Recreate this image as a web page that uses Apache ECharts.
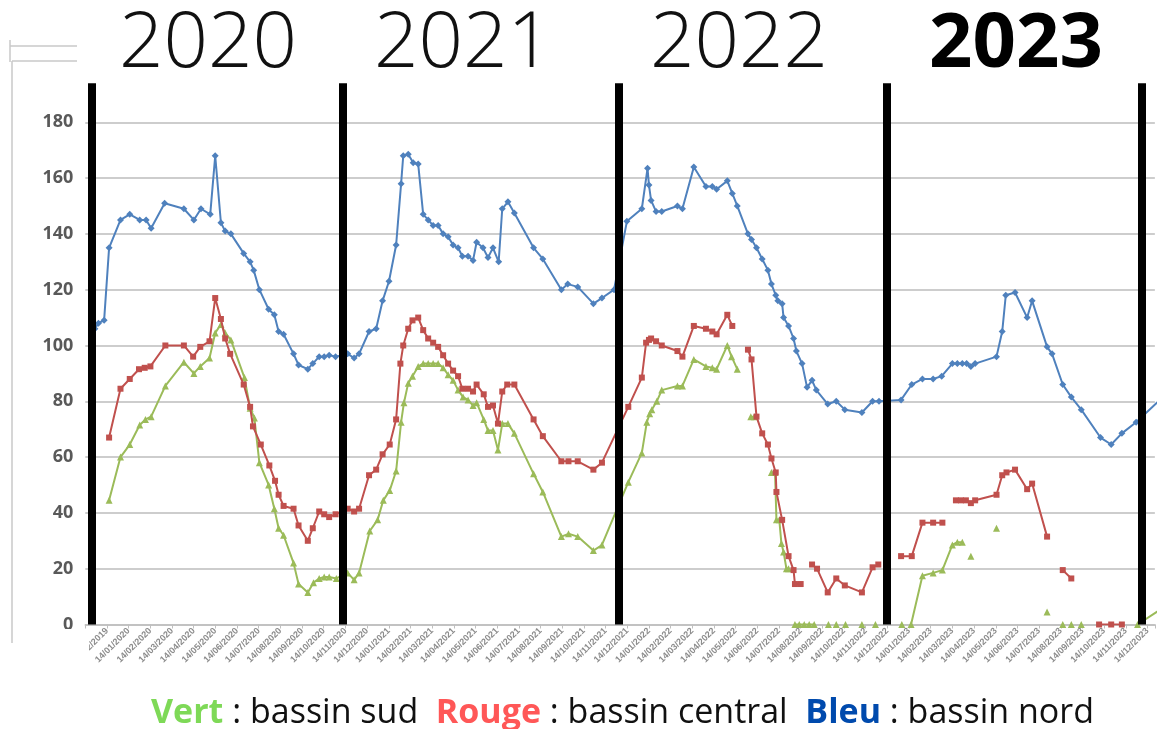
<!DOCTYPE html>
<html><head><meta charset="utf-8">
<script src="https://cdn.jsdelivr.net/npm/echarts@6/dist/echarts.min.js"></script>
<style>html,body{margin:0;padding:0;background:#fff}#c{width:1157px;height:729px}</style>
</head><body><div id="c"></div>
<script>
// ---- data ----
const yearTitles = ['2020', '2021', '2022', '2023'];
const tickLabels = ['14/12/2019','14/01/2020','14/02/2020','14/03/2020','14/04/2020','14/05/2020','14/06/2020','14/07/2020','14/08/2020','14/09/2020','14/10/2020','14/11/2020','14/12/2020','14/01/2021','14/02/2021','14/03/2021','14/04/2021','14/05/2021','14/06/2021','14/07/2021','14/08/2021','14/09/2021','14/10/2021','14/11/2021','14/12/2021','14/01/2022','14/02/2022','14/03/2022','14/04/2022','14/05/2022','14/06/2022','14/07/2022','14/08/2022','14/09/2022','14/10/2022','14/11/2022','14/12/2022','14/01/2023','14/02/2023','14/03/2023','14/04/2023','14/05/2023','14/06/2023','14/07/2023','14/08/2023','14/09/2023','14/10/2023','14/11/2023','14/12/2023'];
const yearSeparators = ['2019-11-23', '2020-11-09', '2021-12-02', '2022-12-13', '2023-12-06'];

// Bleu : bassin nord
const blueNord = [
['2019-11-27',106],['2019-12-02',108],['2019-12-10',109],['2019-12-17',135],['2020-01-02',145],['2020-01-15',147],['2020-01-29',145],['2020-02-07',145],['2020-02-14',142],['2020-03-04',151],['2020-03-31',149],['2020-04-14',145],['2020-04-24',149],['2020-05-07',147],['2020-05-14',168],['2020-05-22',144],['2020-05-28',141],['2020-06-05',140],['2020-06-23',133],['2020-07-02',130],['2020-07-07',127],['2020-07-15',120],['2020-07-28',113],['2020-08-05',111],['2020-08-11',105],['2020-08-18',104],['2020-09-01',97],['2020-09-08',93],['2020-09-21',91.5],['2020-09-28',93.5],['2020-10-07',96],['2020-10-14',96],['2020-10-21',96.5],['2020-10-30',96],['2020-11-16',97],['2020-11-25',95.5],['2020-12-02',97],['2020-12-16',105],['2020-12-26',106],
['2021-01-04',116],['2021-01-13',123],['2021-01-23',136],['2021-01-30',158],['2021-02-02',168],['2021-02-09',168.5],['2021-02-16',165.5],['2021-02-23',165],['2021-03-02',147],['2021-03-09',145],['2021-03-16',143],['2021-03-23',143],['2021-03-30',140],['2021-04-06',139],['2021-04-13',136],['2021-04-20',135],['2021-04-26',132],['2021-05-04',132],['2021-05-11',130.5],['2021-05-16',137],['2021-05-25',135],['2021-06-01',131.5],['2021-06-08',135],['2021-06-16',130],['2021-06-21',149],['2021-06-29',151.5],['2021-07-08',147.5],['2021-08-04',135],['2021-08-17',131],['2021-09-12',120],['2021-09-21',122],['2021-10-05',121],['2021-10-27',115],['2021-11-08',117],['2021-11-25',120],
['2021-12-13',144.5],['2022-01-03',149],['2022-01-11',163.5],['2022-01-13',157.5],['2022-01-16',152],['2022-01-23',148],['2022-01-31',148],['2022-02-22',150],['2022-03-01',149],['2022-03-17',164],['2022-04-03',157],['2022-04-12',157],['2022-04-18',156],['2022-05-03',159],['2022-05-10',154.5],['2022-05-17',150],['2022-06-01',140],['2022-06-06',138],['2022-06-13',135],['2022-06-21',131],['2022-06-29',127],['2022-07-04',122],['2022-07-10',118],['2022-07-13',116],['2022-07-19',115],['2022-07-21',110],['2022-07-28',107],['2022-08-04',102.5],['2022-08-08',98],['2022-08-16',93.5],['2022-08-23',85],['2022-08-30',87.5],['2022-09-05',84],['2022-09-21',79],['2022-10-03',80],['2022-10-15',77],['2022-11-08',76],['2022-11-23',80],['2022-12-02',80],
['2023-01-02',80.5],['2023-01-17',86],['2023-02-01',88],['2023-02-16',88],['2023-02-28',89],['2023-03-15',93.5],['2023-03-22',93.5],['2023-03-29',93.5],['2023-04-04',93.5],['2023-04-10',92.5],['2023-04-16',93.5],['2023-05-16',96],['2023-05-24',105],['2023-05-29',118],['2023-06-11',119],['2023-06-28',110],['2023-07-05',116],['2023-07-26',99.5],['2023-08-02',97],['2023-08-17',86],['2023-08-29',81.5],['2023-09-12',77],['2023-10-09',67],['2023-10-24',64.5],['2023-11-08',68.5],['2023-11-28',72.5],['2024-01-11',83]
];

// Rouge : bassin central
const redCentral = [
['2019-12-17',67],['2020-01-02',84.5],['2020-01-15',88],['2020-01-28',91.5],['2020-02-05',92],['2020-02-13',92.5],['2020-03-05',100],['2020-03-31',100],['2020-04-13',96],['2020-04-23',99.5],['2020-05-06',101.5],['2020-05-14',117],['2020-05-22',109.5],['2020-05-28',102.5],['2020-06-04',97],['2020-06-23',86],['2020-07-02',78],['2020-07-06',71],['2020-07-17',64.5],['2020-07-29',57],['2020-08-06',51.5],['2020-08-11',46.5],['2020-08-18',42.5],['2020-09-01',41.5],['2020-09-08',35.5],['2020-09-21',30],['2020-09-28',34.5],['2020-10-07',40.5],['2020-10-14',39.5],['2020-10-21',38.5],['2020-10-30',39.5],['2020-11-16',41.5],['2020-11-25',40.5],['2020-12-02',41.5],['2020-12-16',53.5],['2020-12-26',55.5],
['2021-01-04',61],['2021-01-14',64.5],['2021-01-23',73.5],['2021-01-29',93.5],['2021-02-02',100],['2021-02-09',106],['2021-02-15',109],['2021-02-23',110],['2021-03-02',105.5],['2021-03-09',102.5],['2021-03-16',101],['2021-03-23',99.5],['2021-03-30',96.5],['2021-04-06',93.5],['2021-04-13',91],['2021-04-20',89],['2021-04-26',84.5],['2021-05-04',84.5],['2021-05-11',83.5],['2021-05-16',86],['2021-05-26',82.5],['2021-06-01',78],['2021-06-08',78.5],['2021-06-15',72],['2021-06-21',83.5],['2021-06-28',86],['2021-07-08',86],['2021-08-04',73.5],['2021-08-17',67.5],['2021-09-12',58.5],['2021-09-22',58.5],['2021-10-05',58.5],['2021-10-27',55.5],['2021-11-08',58],
['2021-12-15',78],['2022-01-03',88.5],['2022-01-09',101],['2022-01-13',102],['2022-01-16',102.5],['2022-01-23',101.5],['2022-01-31',100],['2022-02-22',98],['2022-03-01',96],['2022-03-17',107],['2022-04-03',106],['2022-04-12',105],['2022-04-18',104],['2022-05-03',111],['2022-05-10',107],null,['2022-06-01',98.5],['2022-06-06',95],['2022-06-13',74.5],['2022-06-21',68.5],['2022-06-29',64.5],['2022-07-04',59.5],['2022-07-10',54.5],['2022-07-11',47.5],['2022-07-19',37.5],['2022-07-28',24.5],['2022-08-04',19.5],['2022-08-06',14.5],['2022-08-14',14.5],null,['2022-08-30',21.5],['2022-09-06',20],['2022-09-21',11.5],['2022-10-03',16.5],['2022-10-15',14],['2022-11-08',11.5],['2022-11-23',20.5],['2022-12-01',21.5],null,
['2023-01-02',24.5],['2023-01-17',24.5],['2023-02-01',36.5],['2023-02-16',36.5],['2023-03-01',36.5],null,['2023-03-20',44.5],['2023-03-27',44.5],['2023-04-03',44.5],['2023-04-10',43.5],['2023-04-16',44.5],['2023-05-16',46.5],['2023-05-24',53.5],['2023-05-30',54.5],['2023-06-11',55.5],['2023-06-28',48.5],['2023-07-05',50.5],['2023-07-26',31.5],null,['2023-08-17',19.5],['2023-08-29',16.5],null,['2023-10-07',0],['2023-10-24',0],['2023-11-08',0]
];

// Vert : bassin sud
const greenSud = [
['2019-12-17',44.5],['2020-01-02',60],['2020-01-15',64.5],['2020-01-29',71.5],['2020-02-06',73.5],['2020-02-14',74.5],['2020-03-05',85.5],['2020-03-31',94],['2020-04-14',90],['2020-04-23',92.5],['2020-05-06',95.5],['2020-05-14',104.5],['2020-05-22',107.5],['2020-05-28',104.5],['2020-06-05',102],['2020-06-24',88.5],['2020-07-02',77.5],['2020-07-08',74],['2020-07-15',58],['2020-07-28',50],['2020-08-05',41.5],['2020-08-11',34.5],['2020-08-18',32],['2020-09-01',22],['2020-09-08',14.5],['2020-09-21',11.5],['2020-09-29',15],['2020-10-07',16.5],['2020-10-14',17],['2020-10-21',17],['2020-10-31',16.5],['2020-11-16',18.5],['2020-11-25',16],['2020-12-02',18.5],['2020-12-17',33.5],['2020-12-28',37.5],
['2021-01-05',44.5],['2021-01-14',48],['2021-01-23',55],['2021-01-30',72.5],['2021-02-03',79.5],['2021-02-09',86.5],['2021-02-15',89],['2021-02-23',92.5],['2021-03-02',93.5],['2021-03-09',93.5],['2021-03-16',93.5],['2021-03-23',93.5],['2021-03-30',92],['2021-04-06',89.5],['2021-04-13',87.5],['2021-04-20',84],['2021-04-27',81.5],['2021-05-04',80.5],['2021-05-11',78.5],['2021-05-16',79.5],['2021-05-26',73.5],['2021-06-01',69.5],['2021-06-08',69.5],['2021-06-15',62.5],['2021-06-21',72],['2021-06-29',72],['2021-07-08',68.5],['2021-08-04',54],['2021-08-17',47.5],['2021-09-12',31.5],['2021-09-22',32.5],['2021-10-05',31.5],['2021-10-27',26.5],['2021-11-08',28.5],
['2021-12-15',51],['2022-01-03',61.5],['2022-01-10',72.5],['2022-01-14',75.5],['2022-01-17',77],['2022-01-24',80],['2022-01-31',84],['2022-02-22',85.5],['2022-03-01',85.5],['2022-03-17',95],['2022-04-03',92.5],['2022-04-12',92],['2022-04-18',91.5],['2022-05-03',100],['2022-05-09',96],['2022-05-17',91.5],null,['2022-06-05',74.5],['2022-06-10',74.5],null,['2022-07-04',54.5],['2022-07-09',54.5],['2022-07-11',37.5],['2022-07-15',37.5],['2022-07-18',29],['2022-07-21',26],['2022-07-25',20],['2022-07-28',20],null,['2022-08-06',0],['2022-08-12',0],['2022-08-19',0],['2022-08-26',0],['2022-09-02',0],null,['2022-09-22',0],null,['2022-10-03',0],null,['2022-10-16',0],null,['2022-11-08',0],null,['2022-11-27',0],null,
['2023-01-03',0],null,['2023-01-16',0],['2023-02-01',17.5],['2023-02-16',18.5],['2023-03-01',19.5],['2023-03-15',28.5],['2023-03-22',29.5],['2023-03-29',29.5],null,['2023-04-10',24.5],null,['2023-05-16',34.5],null,['2023-07-26',4.5],null,['2023-08-17',0],null,['2023-08-29',0],null,['2023-09-12',0],null,['2023-11-30',0],['2024-01-11',7]
];

// ---- helpers ----
const ORIGIN = Date.UTC(2019, 11, 14);
function toMonths(s) {
  const p = s.split('-').map(Number);
  return (Date.UTC(p[0], p[1] - 1, p[2]) - ORIGIN) / 86400000 / 30.4375;
}
function build(arr) {
  return arr.map(d => d === null ? ['-', '-'] : [toMonths(d[0]), d[1]]);
}

const chart = echarts.init(document.getElementById('c'), null, {renderer: 'canvas'});
const FONT = '"Open Sans", "DejaVu Sans", sans-serif';

const option = {
  backgroundColor: '#ffffff',
  animation: false,
  grid: {left: 85.28, right: 0, top: 83.2, bottom: 104.5, containLabel: false},
  xAxis: {
    type: 'value', min: -1, max: 48.34, interval: 1,
    axisLine: {show: true, lineStyle: {color: '#bfbfbf', width: 1.5}},
    axisTick: {show: true, length: 4, lineStyle: {color: '#bfbfbf'}},
    splitLine: {show: false},
    axisLabel: {
      rotate: 45, margin: 5, fontSize: 9, fontWeight: 'bold', color: '#8c8c8c', fontFamily: 'Liberation Sans, Arial',
      formatter: v => { const i = Math.round(v); return (Math.abs(v - i) < 1e-6 && i >= 0 && i < tickLabels.length) ? tickLabels[i] : ''; }
    }
  },
  yAxis: {
    type: 'value', min: 0, max: 194, interval: 20,
    axisLine: {show: false}, axisTick: {show: false},
    splitLine: {show: true, showMaxLine: false, lineStyle: {color: '#bdbdbd', width: 1.5}},
    axisLabel: {showMaxLabel: false, margin: 12, fontSize: 18, fontWeight: 'bold', color: '#595959', fontFamily: FONT}
  },
  series: [
    {name: 'Bleu : bassin nord', type: 'line', data: build(blueNord), symbol: 'diamond', symbolSize: 7,
     lineStyle: {color: '#4f81bd', width: 2}, itemStyle: {color: '#4f81bd'}, connectNulls: false, z: 3},
    {name: 'Rouge : bassin central', type: 'line', data: build(redCentral), symbol: 'rect', symbolSize: 6,
     lineStyle: {color: '#c0504d', width: 2}, itemStyle: {color: '#c0504d'}, connectNulls: false, z: 4},
    {name: 'Vert : bassin sud', type: 'line', data: build(greenSud), symbol: 'triangle', symbolSize: 7,
     lineStyle: {color: '#9bbb59', width: 2}, itemStyle: {color: '#9bbb59'}, connectNulls: false, z: 3},
    {name: 'separators', type: 'line', data: [], z: 10, silent: true,
     markLine: {silent: true, symbol: ['none', 'none'], label: {show: false},
       lineStyle: {color: '#000', width: 8, type: 'solid'},
       data: yearSeparators.map(d => ({xAxis: toMonths(d)}))}}
  ],
  title: {
    text: '{g|Vert} : bassin sud  {r|Rouge} : bassin central  {b|Bleu} : bassin nord',
    left: 146, top: 691,
    textStyle: {fontFamily: FONT, fontSize: 34, fontWeight: 'normal', color: '#111',
      rich: {
        g: {color: '#7ed957', fontWeight: 'bold', fontSize: 34, fontFamily: FONT},
        r: {color: '#ff5757', fontWeight: 'bold', fontSize: 34, fontFamily: FONT},
        b: {color: '#004aad', fontWeight: 'bold', fontSize: 34, fontFamily: FONT}
      }}
  },
  graphic: [
    {type: 'line', shape: {x1: 10, y1: 46, x2: 77, y2: 46}, style: {stroke: '#c8c8c8', lineWidth: 1.5}},
    {type: 'line', shape: {x1: 10, y1: 40, x2: 10, y2: 62}, style: {stroke: '#c8c8c8', lineWidth: 1.5}},
    {type: 'line', shape: {x1: 12, y1: 61, x2: 77, y2: 61}, style: {stroke: '#c8c8c8', lineWidth: 1.5}},
    {type: 'line', shape: {x1: 12, y1: 61, x2: 12, y2: 643}, style: {stroke: '#c8c8c8', lineWidth: 1.5}},
    {type: 'rect', shape: {x: 40, y: 629, width: 49, height: 40}, style: {fill: '#fff'}, z: 100},
    {type: 'text', x: 208, y: 45, z: 100, style: {text: yearTitles[0], font: '300 78px ' + FONT, fill: '#111', textAlign: 'center', textVerticalAlign: 'middle', align: 'center', verticalAlign: 'middle'}},
    {type: 'text', x: 463, y: 45, z: 100, style: {text: yearTitles[1], font: '300 78px ' + FONT, fill: '#111', textAlign: 'center', textVerticalAlign: 'middle', align: 'center', verticalAlign: 'middle'}},
    {type: 'text', x: 739, y: 45, z: 100, style: {text: yearTitles[2], font: '300 78px ' + FONT, fill: '#111', textAlign: 'center', textVerticalAlign: 'middle', align: 'center', verticalAlign: 'middle'}},
    {type: 'text', x: 1016, y: 45, z: 100, style: {text: yearTitles[3], font: 'bold 76px ' + FONT, fill: '#000', textAlign: 'center', textVerticalAlign: 'middle', align: 'center', verticalAlign: 'middle'}}
  ]
};
chart.setOption(option);
</script>
</body></html>
